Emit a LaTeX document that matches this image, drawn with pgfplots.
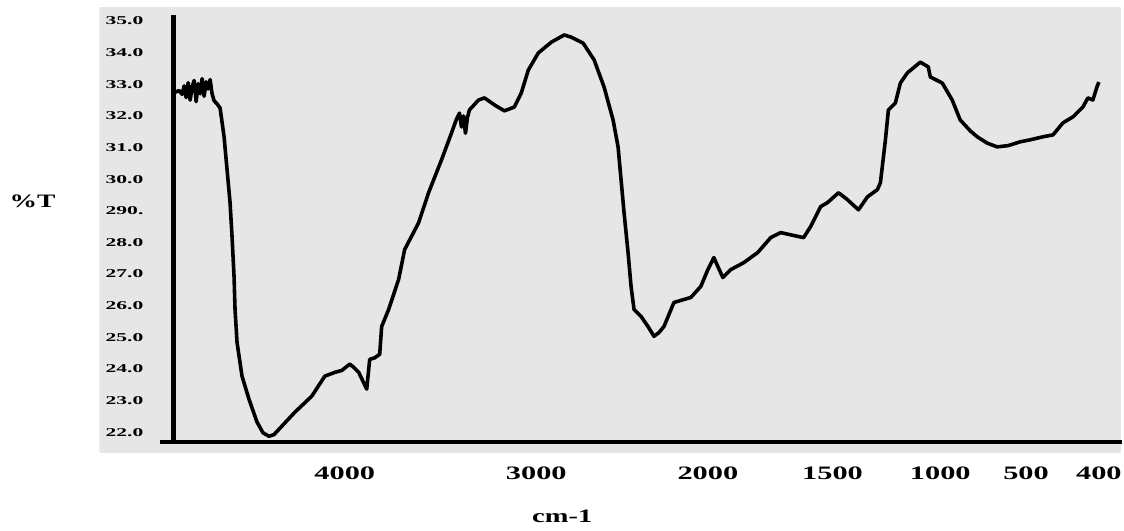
\documentclass[border=0pt]{standalone}
\usepackage{pgfplots}
\pgfplotsset{compat=1.18}
\usepackage{fontspec}
\setmainfont{Liberation Serif}
\definecolor{bggray}{RGB}{230,230,230}
\begin{document}
\begin{tikzpicture}
\begin{axis}[
  scale only axis, width=562pt, height=265.5pt,
  xmin=0, xmax=1124, ymin=18.909, ymax=35.659,
  axis line style={draw=none},
  axis on top=true,
  clip=false,
  major tick length=0pt,
  xtick={343,535,707,832,940,1026,1099},
  xticklabels={4000,3000,2000,1500,1000,500,400},
  ytick={22,23,24,25,26,27,28,29,30,31,32,33,34,35},
  yticklabels={22.0,23.0,24.0,25.0,26.0,27.0,28.0,290.,30.0,31.0,32.0,33.0,34.0,35.0},
  /pgf/number format/assume math mode=true,
  xticklabel style={font=\fontsize{9.5}{10}\selectfont\bfseries, xscale=1.6, anchor=north, inner sep=0pt, yshift=32pt},
  yticklabel style={font=\fontsize{6}{6}\selectfont\bfseries, xscale=1.8, anchor=east, inner sep=0pt, xshift=39.4pt},
]
% background panel
\addplot[draw=none, fill=bggray] coordinates {(97,21.34) (1121,21.34) (1121,35.44) (97,35.44) (97,21.34)};
% axis lines
\addplot[black, line width=2.5pt] coordinates {(171,35.19) (171,21.685)};
\addplot[black, line width=2.2pt] coordinates {(158,21.685) (1122,21.685)};
% spectrum
\addplot[black, line width=1.8pt, line join=round] coordinates {
(173,32.75) (177,32.80) (180,32.68) (182,32.95) (184,32.58) (186,33.05) (188,32.50) (190,32.92)
(192,33.12) (194,32.45) (196,33.02) (198,32.70) (200,33.18) (202,32.62) (204,33.08) (206,32.85)
(208,33.15) (210,32.70) (212,32.48) (215,32.38) (218,32.25) (220,31.80) (222,31.34) (225,30.30)
(228,29.26) (230,28.18) (232,26.92) (233,25.88) (235,24.84) (240,23.77) (247,23.04) (255,22.32)
(261,21.98) (267,21.87) (272,21.92) (277,22.09) (293,22.63) (310,23.14) (323,23.77) (333,23.89)
(340,23.95) (348,24.15) (352,24.05) (357,23.89) (365,23.36) (368,24.30) (373,24.35) (378,24.46)
(380,25.34) (387,25.88) (397,26.83) (403,27.77) (417,28.62) (427,29.57) (440,30.61) (450,31.46)
(455,31.90) (458,32.09) (460,31.65) (462,32.00) (464,31.45) (466,31.95) (468,32.19) (477,32.50)
(483,32.57) (493,32.35) (503,32.16) (513,32.28) (520,32.73) (527,33.45) (537,33.99) (550,34.33)
(563,34.56) (570,34.49) (582,34.30) (593,33.77) (603,32.91) (612,31.87) (617,31.02) (620,29.98)
(623,28.94) (627,27.68) (630,26.61) (633,25.88) (640,25.66) (647,25.34) (653,25.03) (658,25.15)
(663,25.34) (673,26.10) (690,26.26) (700,26.61) (707,27.14) (713,27.52) (722,26.89) (730,27.14)
(743,27.36) (757,27.68) (770,28.15) (780,28.31) (803,28.15) (810,28.50) (820,29.13) (827,29.26)
(838,29.57) (847,29.35) (858,29.03) (867,29.44) (877,29.67) (880,29.89) (885,31.24) (888,32.19)
(895,32.41) (900,33.04) (907,33.36) (920,33.70) (928,33.55) (930,33.23) (942,33.04) (952,32.50)
(960,31.87) (970,31.53) (977,31.34) (987,31.14) (997,31.02) (1008,31.06) (1020,31.18) (1031,31.25)
(1043,31.34) (1053,31.40) (1063,31.78) (1073,31.97) (1083,32.28) (1088,32.57) (1093,32.50) (1097,32.91)
(1099,33.07)
};
\node[font=\fontsize{9.5}{10}\selectfont\bfseries, xscale=1.45] at (axis cs:30,29.29) {\%T};
\node[font=\fontsize{9.5}{10}\selectfont\bfseries, xscale=1.5] at (axis cs:561,19.35) {cm-1};
\end{axis}
\end{tikzpicture}
\end{document}
